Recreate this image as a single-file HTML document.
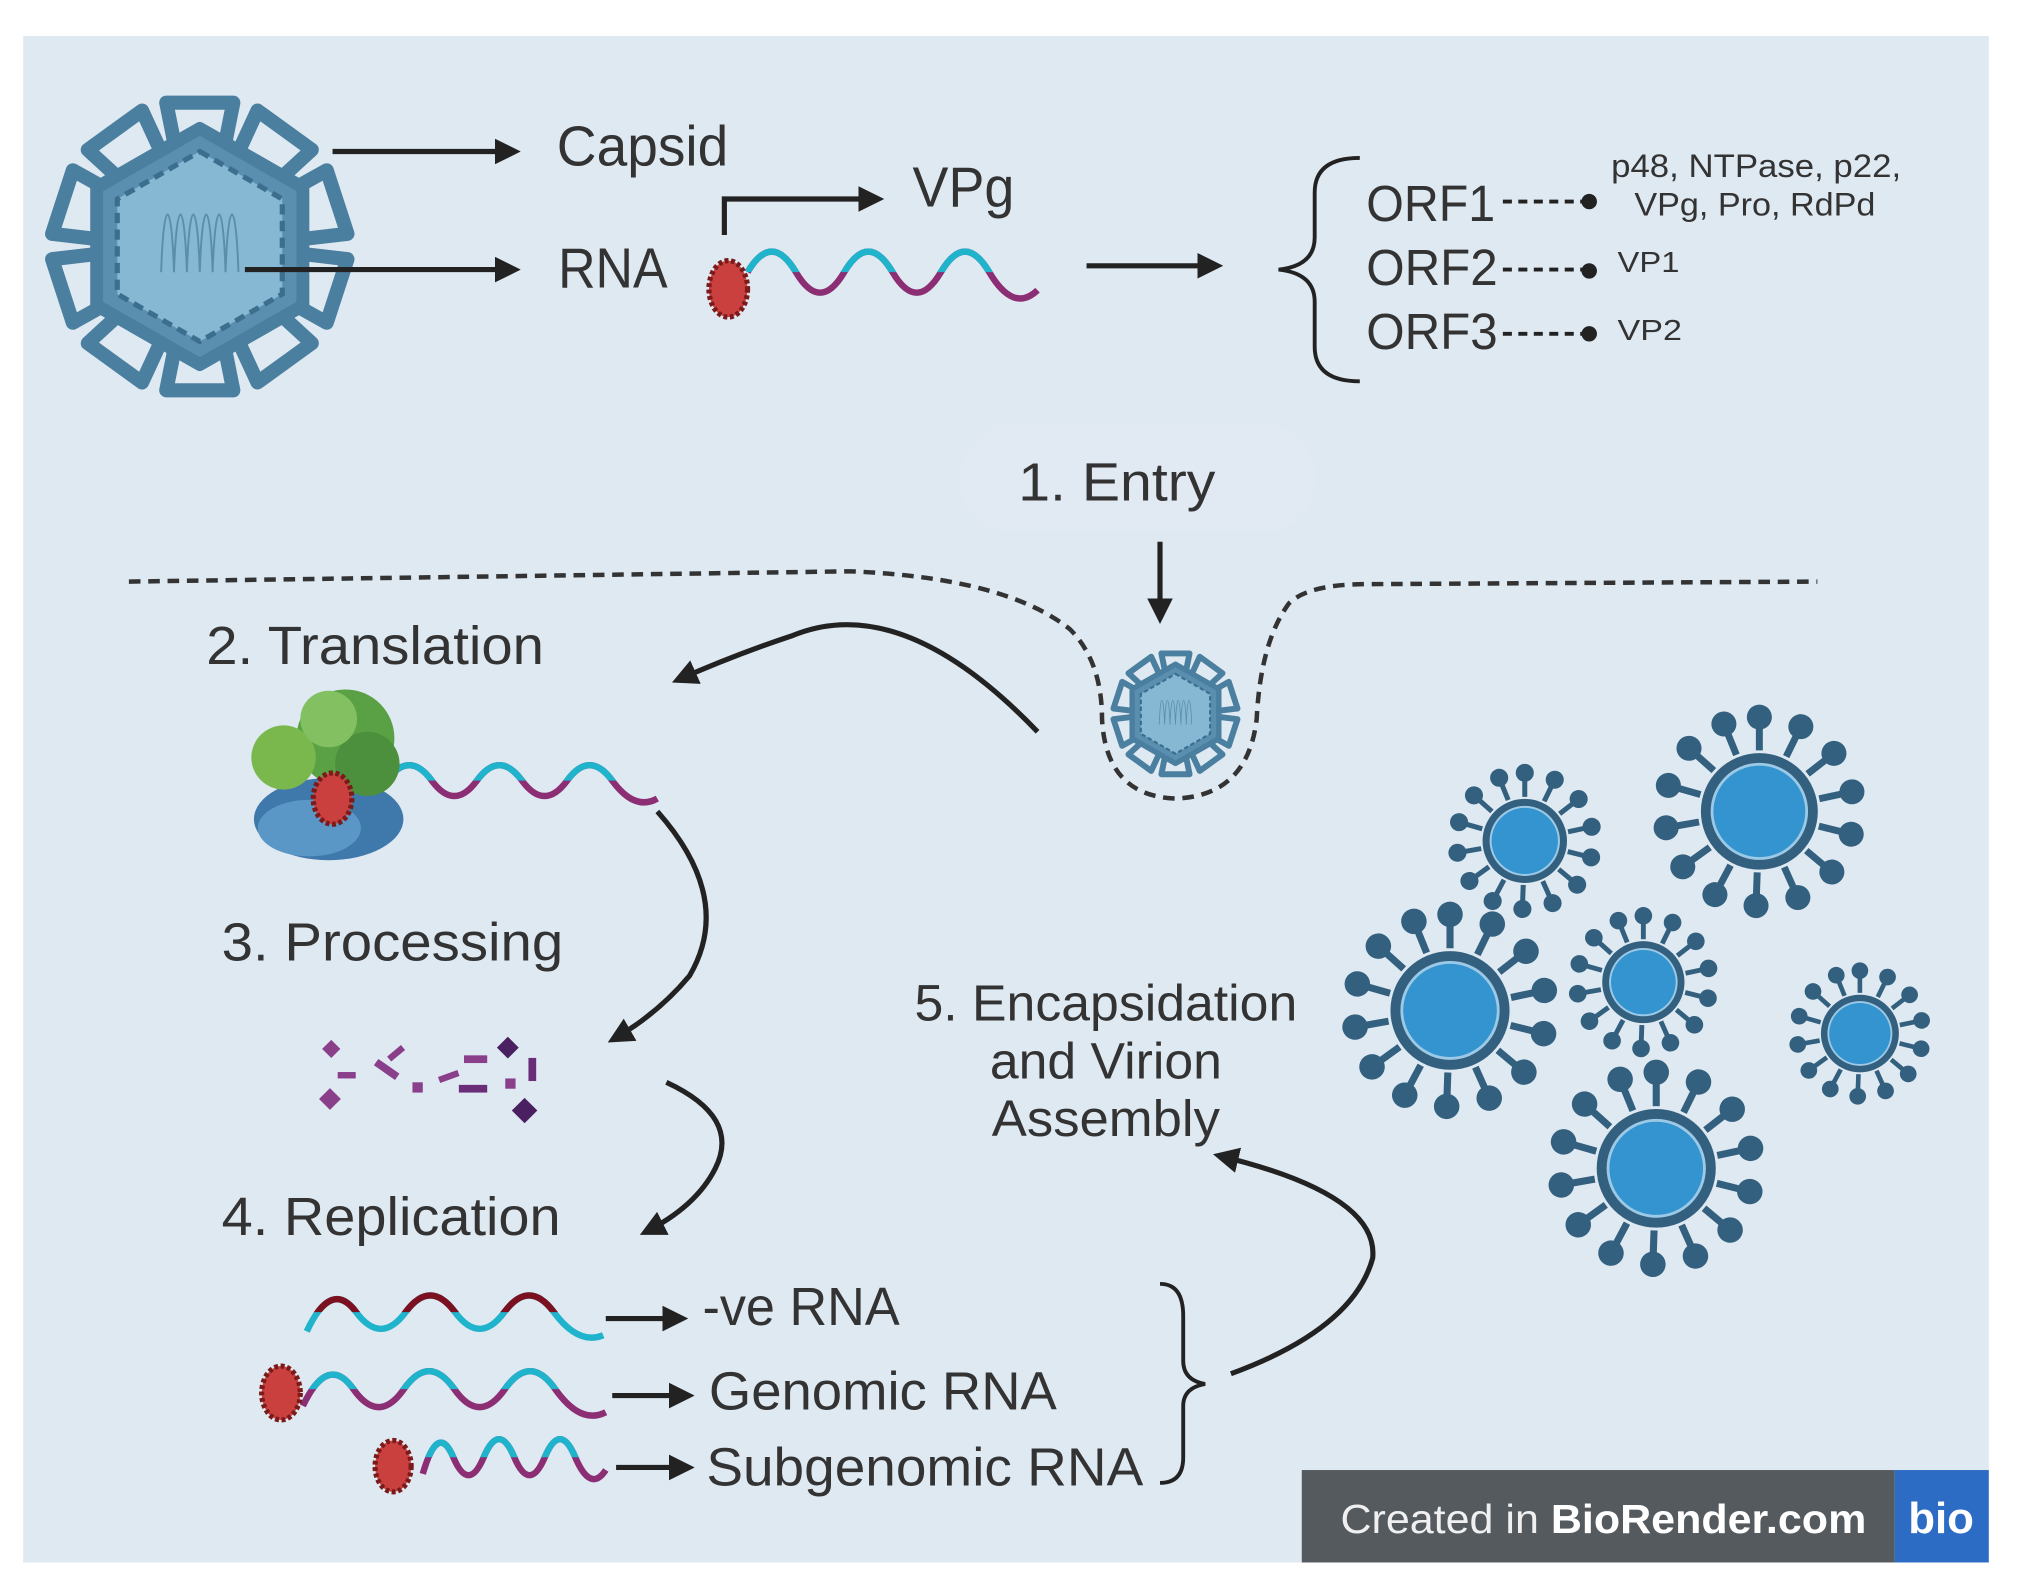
<!DOCTYPE html>
<html><head><meta charset="utf-8"><style>
html,body{margin:0;padding:0;background:#fff;}
svg{display:block;}
text{font-family:"Liberation Sans",sans-serif;fill:#333;}
</style></head><body>
<svg width="2021" height="1592" viewBox="0 0 1568 1240" preserveAspectRatio="none" xmlns="http://www.w3.org/2000/svg">
<defs>
<marker id="ah" viewBox="0 0 10 10" refX="8" refY="5" markerWidth="5" markerHeight="5" orient="auto" markerUnits="strokeWidth"><path d="M0,0L10,5L0,10z" fill="#222"/></marker>
<g id="sp"><line x1="0" y1="-44" x2="0" y2="-66" stroke="#33607f" stroke-width="5"/><circle cx="0" cy="-68" r="9" fill="#33607f"/></g>
<g id="vir">
<use href="#sp"/><use href="#sp" transform="rotate(26)"/><use href="#sp" transform="rotate(52)"/><use href="#sp" transform="rotate(78)"/><use href="#sp" transform="rotate(104)"/><use href="#sp" transform="rotate(130)"/><use href="#sp" transform="rotate(156)"/><use href="#sp" transform="rotate(182)"/><use href="#sp" transform="rotate(208)"/><use href="#sp" transform="rotate(234)"/><use href="#sp" transform="rotate(260)"/><use href="#sp" transform="rotate(286)"/><use href="#sp" transform="rotate(312)"/><use href="#sp" transform="rotate(338)"/>
<circle r="42" fill="#33607f"/><circle r="35" fill="#9cc9e6"/><circle r="33" fill="#3394cf"/>
</g>
<g id="loop"><path d="M-20,-82 L-26,-112 L26,-112 L20,-82" fill="none" stroke="#4b7fa0" stroke-width="11" stroke-linejoin="round"/></g>
<g id="big">
<use href="#loop"/><use href="#loop" transform="rotate(36)"/><use href="#loop" transform="rotate(72)"/><use href="#loop" transform="rotate(108)"/><use href="#loop" transform="rotate(144)"/><use href="#loop" transform="rotate(180)"/><use href="#loop" transform="rotate(216)"/><use href="#loop" transform="rotate(252)"/><use href="#loop" transform="rotate(288)"/><use href="#loop" transform="rotate(324)"/>
<polygon points="0,-92 80,-46 80,46 0,92 -80,46 -80,-46" fill="#5b8fb0" stroke="#4b7fa0" stroke-width="10" stroke-linejoin="round"/>
<polygon points="0,-74 64,-37 64,37 0,74 -64,37 -64,-37" fill="#86b8d3" stroke="#3c6e8e" stroke-width="4" stroke-dasharray="8,5"/>
<path d="M-30,20 C-28,-40 -22,-40 -20,20 C-18,-40 -12,-40 -10,20 C-8,-40 -2,-40 0,20 C2,-40 8,-40 10,20 C12,-40 18,-40 20,20 C22,-40 28,-40 30,20" fill="none" stroke="#5a8fab" stroke-width="1.5"/>
</g>
<clipPath id="c1"><rect x="0" y="0" width="1568" height="212"/></clipPath>
<clipPath id="c2"><rect x="0" y="0" width="1568" height="608"/></clipPath>
<clipPath id="c3"><rect x="0" y="0" width="1568" height="1022"/></clipPath>
<clipPath id="c4"><rect x="0" y="0" width="1568" height="1082"/></clipPath>
<clipPath id="c5"><rect x="0" y="0" width="1568" height="1135"/></clipPath>
<path id="p1" d="M580,212 Q598.75,180 617.5,212 Q636.25,244 655,212 Q673.75,180 692.5,212 Q711.25,244 730,212 Q748.75,180 767.5,212 Q786.25,244 805,226"/>
<path id="p2" d="M300,608 Q317.5,584 335,608 Q352.5,632 370,608 Q387.5,584 405,608 Q422.5,632 440,608 Q457.5,584 475,608 Q492.5,632 510,622"/>
<path id="p3" d="M238,1037 Q257,996 276.3,1022 Q295.5,1048 314.7,1022 Q333.8,996 353,1022 Q372.2,1048 391.3,1022 Q410.5,996 429.7,1022 Q448.8,1048 468,1040"/>
<path id="p4" d="M235,1095 Q254.6,1054 274.2,1082 Q293.8,1110 313.3,1082 Q332.9,1054 352.5,1082 Q372.1,1110 391.7,1082 Q411.3,1054 430.8,1082 Q450.4,1110 470,1100"/>
<path id="p5" d="M328,1148 Q339.8,1107 351.7,1135 Q363.5,1163 375.3,1135 Q387.2,1107 399,1135 Q410.8,1163 422.7,1135 Q434.5,1107 446.3,1135 Q458.2,1163 470,1145"/>
</defs>
<rect x="18" y="28" width="1525" height="1189" fill="#dfe9f2"/>

<use href="#big" transform="translate(155,192)"/>
<line x1="258" y1="118" x2="400" y2="118" stroke="#222" stroke-width="4" marker-end="url(#ah)"/>
<line x1="190" y1="210" x2="400" y2="210" stroke="#222" stroke-width="4" marker-end="url(#ah)"/>
<text x="432" y="129" font-size="44" textLength="133" lengthAdjust="spacingAndGlyphs">Capsid</text>
<text x="433" y="224" font-size="44" textLength="85" lengthAdjust="spacingAndGlyphs">RNA</text>
<polyline points="562,183 562,155 682,155" fill="none" stroke="#222" stroke-width="4" marker-end="url(#ah)"/>
<text x="708" y="161" font-size="44" textLength="79" lengthAdjust="spacingAndGlyphs">VPg</text>

<g fill="none" stroke-width="5">
<use href="#p1" stroke="#8c2e74"/>
<use href="#p1" stroke="#20b3cc" clip-path="url(#c1)"/>
<use href="#p2" stroke="#8c2e74"/>
<use href="#p2" stroke="#20b3cc" clip-path="url(#c2)"/>
</g>
<ellipse cx="565" cy="225" rx="15" ry="22" fill="#c9403f" stroke="#7a1a1a" stroke-width="4" stroke-dasharray="3,2"/>
<line x1="843" y1="207" x2="945" y2="207" stroke="#222" stroke-width="4" marker-end="url(#ah)"/>
<path d="M1055,123 Q1020,123 1020,150 L1020,185 Q1020,207 992,210 Q1020,213 1020,235 L1020,270 Q1020,297 1055,297" fill="none" stroke="#222" stroke-width="3"/>
<g font-size="40">
<text x="1060" y="172" textLength="100" lengthAdjust="spacingAndGlyphs">ORF1</text>
<text x="1060" y="222" textLength="102" lengthAdjust="spacingAndGlyphs">ORF2</text>
<text x="1060" y="272" textLength="102" lengthAdjust="spacingAndGlyphs">ORF3</text>
</g>
<g stroke="#222" stroke-width="3" stroke-dasharray="7,5"><line x1="1166" y1="157" x2="1230" y2="157"/><line x1="1166" y1="210" x2="1230" y2="210"/><line x1="1166" y1="260" x2="1230" y2="260"/></g>
<g fill="#222"><circle cx="1233" cy="157" r="6"/><circle cx="1233" cy="211" r="6"/><circle cx="1233" cy="260" r="6"/></g>
<text x="1250" y="138" font-size="25" textLength="225" lengthAdjust="spacingAndGlyphs">p48, NTPase, p22,</text>
<text x="1268" y="168" font-size="25" textLength="187" lengthAdjust="spacingAndGlyphs">VPg, Pro, RdPd</text>
<text x="1255" y="212" font-size="22" textLength="48" lengthAdjust="spacingAndGlyphs">VP1</text>
<text x="1255" y="265" font-size="22" textLength="50" lengthAdjust="spacingAndGlyphs">VP2</text>

<rect x="745" y="330" width="275" height="85" rx="40" fill="#e1eaf3"/>
<text x="790" y="390" font-size="42" textLength="153" lengthAdjust="spacingAndGlyphs">1.  Entry</text>
<line x1="900" y1="422" x2="900" y2="482" stroke="#222" stroke-width="4" marker-end="url(#ah)"/>
<path d="M100,453 L660,445 Q780,450 830,490 Q855,515 855,560 Q858,620 912,622 Q968,620 975,560 Q978,500 1000,470 Q1015,455 1060,455 L1410,453" fill="none" stroke="#333" stroke-width="3.5" stroke-dasharray="9,6"/>
<use href="#big" transform="translate(912,556) scale(0.42)"/>
<path d="M805,570 Q700,460 615,495 Q570,510 525,530" fill="none" stroke="#222" stroke-width="4" marker-end="url(#ah)"/>

<text x="160" y="517" font-size="42" textLength="262" lengthAdjust="spacingAndGlyphs">2. Translation</text>
<ellipse cx="255" cy="638" rx="58" ry="32" fill="#3f79ab"/>
<ellipse cx="240" cy="645" rx="40" ry="22" fill="#5b97c6"/>
<circle cx="268" cy="575" r="38" fill="#5aa145"/>
<circle cx="220" cy="590" r="25" fill="#7ab84e"/>
<circle cx="285" cy="595" r="25" fill="#4c8f3c"/>
<circle cx="255" cy="560" r="22" fill="#83c061"/>
<ellipse cx="258" cy="622" rx="15" ry="20" fill="#c9403f" stroke="#7a1a1a" stroke-width="4" stroke-dasharray="3,2"/>
<path d="M510,632 Q570,700 535,760 Q510,790 475,810" fill="none" stroke="#222" stroke-width="4" marker-end="url(#ah)"/>

<text x="172" y="748" font-size="42" textLength="265" lengthAdjust="spacingAndGlyphs">3. Processing</text>
<g fill="#8a3f8a">
<rect x="252" y="812" width="10" height="10" transform="rotate(45 257 817)"/>
<rect x="250" y="850" width="12" height="12" transform="rotate(45 256 856)"/>
<rect x="262" y="835" width="14" height="5"/>
<rect x="290" y="830" width="20" height="6" transform="rotate(35 300 833)"/>
<rect x="300" y="818" width="14" height="5" transform="rotate(-40 307 820)"/>
<rect x="320" y="843" width="8" height="8"/>
<rect x="340" y="836" width="16" height="5" transform="rotate(-20 348 838)"/>
<rect x="360" y="822" width="18" height="6"/>
<rect x="356" y="845" width="22" height="6" fill="#6a2d78"/>
<rect x="388" y="810" width="12" height="12" transform="rotate(45 394 816)" fill="#4a2060"/>
<rect x="410" y="824" width="6" height="18" fill="#6a2d78"/>
<rect x="392" y="840" width="8" height="8"/>
<rect x="400" y="858" width="14" height="14" transform="rotate(45 407 865)" fill="#4a2060"/>
</g>
<path d="M517,843 Q575,870 555,910 Q540,940 500,960" fill="none" stroke="#222" stroke-width="4" marker-end="url(#ah)"/>

<text x="172" y="962" font-size="42" textLength="263" lengthAdjust="spacingAndGlyphs">4. Replication</text>
<g fill="none" stroke-width="5">
<use href="#p3" stroke="#20b3cc"/>
<use href="#p3" stroke="#7a1020" clip-path="url(#c3)"/>
<use href="#p4" stroke="#8c2e74"/>
<use href="#p4" stroke="#20b3cc" clip-path="url(#c4)"/>
<use href="#p5" stroke="#8c2e74"/>
<use href="#p5" stroke="#20b3cc" clip-path="url(#c5)"/>
</g>
<line x1="470" y1="1027" x2="530" y2="1027" stroke="#222" stroke-width="4" marker-end="url(#ah)"/>
<text x="545" y="1032" font-size="42" textLength="153" lengthAdjust="spacingAndGlyphs">-ve RNA</text>
<ellipse cx="218" cy="1085" rx="15" ry="21" fill="#c9403f" stroke="#7a1a1a" stroke-width="4" stroke-dasharray="3,2"/>
<line x1="475" y1="1087" x2="535" y2="1087" stroke="#222" stroke-width="4" marker-end="url(#ah)"/>
<text x="550" y="1098" font-size="42" textLength="270" lengthAdjust="spacingAndGlyphs">Genomic RNA</text>
<ellipse cx="305" cy="1142" rx="14" ry="20" fill="#c9403f" stroke="#7a1a1a" stroke-width="4" stroke-dasharray="3,2"/>
<line x1="478" y1="1143" x2="535" y2="1143" stroke="#222" stroke-width="4" marker-end="url(#ah)"/>
<text x="548" y="1157" font-size="42" textLength="339" lengthAdjust="spacingAndGlyphs">Subgenomic RNA</text>

<path d="M900,1000 Q918,1000 918,1025 L918,1060 Q918,1075 935,1078 Q918,1081 918,1095 L918,1135 Q918,1155 900,1155" fill="none" stroke="#222" stroke-width="3"/>
<path d="M955,1070 Q1050,1035 1065,980 Q1070,930 945,900" fill="none" stroke="#222" stroke-width="4" marker-end="url(#ah)"/>

<g font-size="40" text-anchor="middle">
<text x="858" y="795" textLength="297" lengthAdjust="spacingAndGlyphs">5. Encapsidation</text>
<text x="858" y="840" textLength="180" lengthAdjust="spacingAndGlyphs">and Virion</text>
<text x="858" y="885" textLength="177" lengthAdjust="spacingAndGlyphs">Assembly</text>
</g>

<use href="#vir" transform="translate(1183,655) scale(0.78)"/>
<use href="#vir" transform="translate(1365,632) scale(1.08)"/>
<use href="#vir" transform="translate(1125,787) scale(1.1)"/>
<use href="#vir" transform="translate(1275,765) scale(0.76)"/>
<use href="#vir" transform="translate(1443,805) scale(0.72)"/>
<use href="#vir" transform="translate(1285,910) scale(1.1)"/>

<rect x="1010" y="1145" width="460" height="72" fill="#555a5e"/>
<rect x="1470" y="1145" width="73" height="72" fill="#2c6cc4"/>
<text x="1040" y="1194" font-size="32" style="fill:#f0f0f0" textLength="408" lengthAdjust="spacingAndGlyphs">Created in <tspan font-weight="bold" style="fill:#fff">BioRender.com</tspan></text>
<text x="1506" y="1194" font-size="34" font-weight="bold" text-anchor="middle" style="fill:#fff">bio</text>
</svg>
</body></html>
